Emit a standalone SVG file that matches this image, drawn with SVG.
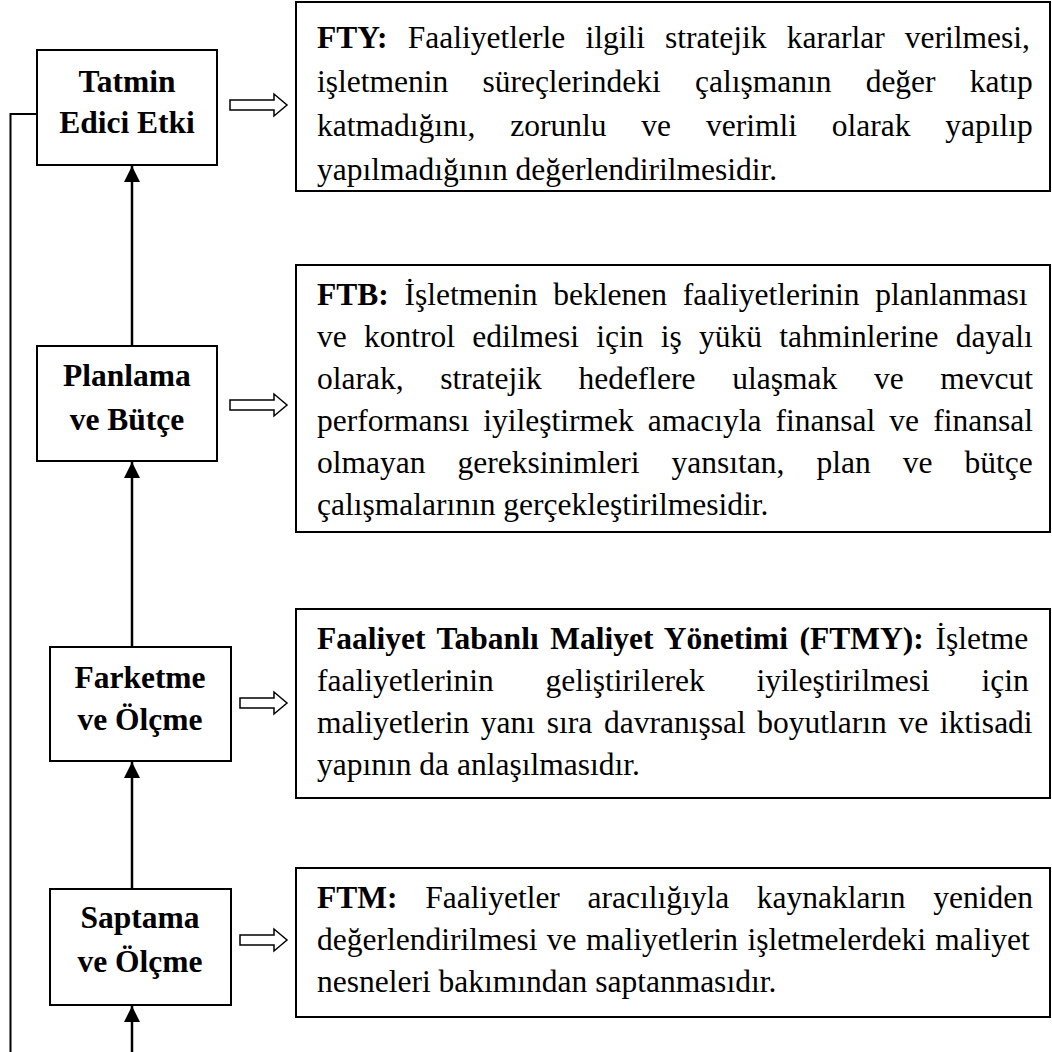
<svg xmlns="http://www.w3.org/2000/svg" width="1052" height="1052" viewBox="0 0 1052 1052">
  <style>
    .box { fill: #fff; stroke: #000; stroke-width: 2; }
    .lbl { font-family: "Liberation Serif", "Times New Roman", serif; font-size: 31.5px; font-weight: bold; fill: #000; text-anchor: middle; }
    .body { font-family: "Liberation Serif", "Times New Roman", serif; font-size: 31.5px; fill: #000; }
    .b { font-weight: bold; }
    .conn { fill: none; stroke: #000; stroke-width: 2.5; }
    .fb { fill: none; stroke: #000; stroke-width: 2; }
    .hollow { fill: #fff; stroke: #000; stroke-width: 1.5; stroke-linejoin: miter; }
  </style>
  <defs>
    <marker id="head" markerUnits="userSpaceOnUse" viewBox="0 0 16 16" refX="16" refY="8" markerWidth="16" markerHeight="16" orient="auto">
      <path d="M0,0 L16,8 L0,16 Z" fill="#000"/>
    </marker>
  </defs>

  <rect width="1052" height="1052" fill="#fff"/>

  <!-- connectors -->
  <g id="connectors">
    <polyline class="fb" points="10.5,1052 10.5,114 37,114"/>
    <line class="conn" x1="132" y1="346" x2="132" y2="166" marker-end="url(#head)"/>
    <line class="conn" x1="132" y1="647" x2="132" y2="462" marker-end="url(#head)"/>
    <line class="conn" x1="132" y1="889" x2="132" y2="762" marker-end="url(#head)"/>
    <line class="conn" x1="132" y1="1052" x2="132" y2="1006" marker-end="url(#head)"/>
    <path class="hollow" d="M230,100 H274 V94 L287,105 L274,116 V110 H230 Z"/>
    <path class="hollow" d="M230,400 H274 V394 L287,405 L274,416 V410 H230 Z"/>
    <path class="hollow" d="M240,698 H274 V692 L287,703 L274,714 V708 H240 Z"/>
    <path class="hollow" d="M240,935 H274 V929 L287,940 L274,951 V945 H240 Z"/>
  </g>

  <!-- stage boxes -->
  <g id="tatmin">
    <rect class="box" x="37" y="50" width="180" height="115"/>
    <text class="lbl" x="127" y="92">Tatmin</text>
    <text class="lbl" x="127" y="133">Edici Etki</text>
  </g>
  <g id="planlama">
    <rect class="box" x="37" y="346" width="180" height="115"/>
    <text class="lbl" x="127" y="386">Planlama</text>
    <text class="lbl" x="127" y="430">ve Bütçe</text>
  </g>
  <g id="farketme">
    <rect class="box" x="50" y="647" width="181" height="114"/>
    <text class="lbl" x="140" y="688">Farketme</text>
    <text class="lbl" x="140" y="730">ve Ölçme</text>
  </g>
  <g id="saptama">
    <rect class="box" x="50" y="889" width="181" height="116"/>
    <text class="lbl" x="140" y="928">Saptama</text>
    <text class="lbl" x="140" y="972">ve Ölçme</text>
  </g>

  <!-- description boxes -->
  <g id="fty">
    <rect class="box" x="296" y="2" width="754" height="189"/>
    <text class="body" x="317" y="48" word-spacing="12.3"><tspan class="b">FTY:</tspan> Faaliyetlerle ilgili stratejik kararlar verilmesi,</text>
    <text class="body" x="317" y="92" word-spacing="26.3">işletmenin süreçlerindeki çalışmanın değer katıp</text>
    <text class="body" x="317" y="136" word-spacing="27">katmadığını, zorunlu ve verimli olarak yapılıp</text>
    <text class="body" x="317" y="180">yapılmadığının değerlendirilmesidir.</text>
  </g>
  <g id="ftb">
    <rect class="box" x="296" y="265" width="754" height="267"/>
    <text class="body" x="317" y="305" word-spacing="7.9"><tspan class="b">FTB:</tspan> İşletmenin beklenen faaliyetlerinin planlanması</text>
    <text class="body" x="317" y="347" word-spacing="9.4">ve kontrol edilmesi için iş yükü tahminlerine dayalı</text>
    <text class="body" x="317" y="389" word-spacing="28.8">olarak, stratejik hedeflere ulaşmak ve mevcut</text>
    <text class="body" x="317" y="431" word-spacing="6.2">performansı iyileştirmek amacıyla finansal ve finansal</text>
    <text class="body" x="317" y="473" word-spacing="24.2">olmayan gereksinimleri yansıtan, plan ve bütçe</text>
    <text class="body" x="317" y="515">çalışmalarının gerçekleştirilmesidir.</text>
  </g>
  <g id="ftmy">
    <rect class="box" x="296" y="609" width="754" height="189"/>
    <text class="body" x="317" y="649" word-spacing="3.7"><tspan class="b">Faaliyet Tabanlı Maliyet Yönetimi (FTMY):</tspan> İşletme</text>
    <text class="body" x="317" y="691" word-spacing="43.9">faaliyetlerinin geliştirilerek iyileştirilmesi için</text>
    <text class="body" x="317" y="733" word-spacing="3.8">maliyetlerin yanı sıra davranışsal boyutların ve iktisadi</text>
    <text class="body" x="317" y="775">yapının da anlaşılmasıdır.</text>
  </g>
  <g id="ftm">
    <rect class="box" x="296" y="868" width="754" height="149"/>
    <text class="body" x="317" y="908" word-spacing="19.8"><tspan class="b">FTM:</tspan> Faaliyetler aracılığıyla kaynakların yeniden</text>
    <text class="body" x="317" y="950" word-spacing="1.5">değerlendirilmesi ve maliyetlerin işletmelerdeki maliyet</text>
    <text class="body" x="317" y="992">nesneleri bakımından saptanmasıdır.</text>
  </g>
</svg>
